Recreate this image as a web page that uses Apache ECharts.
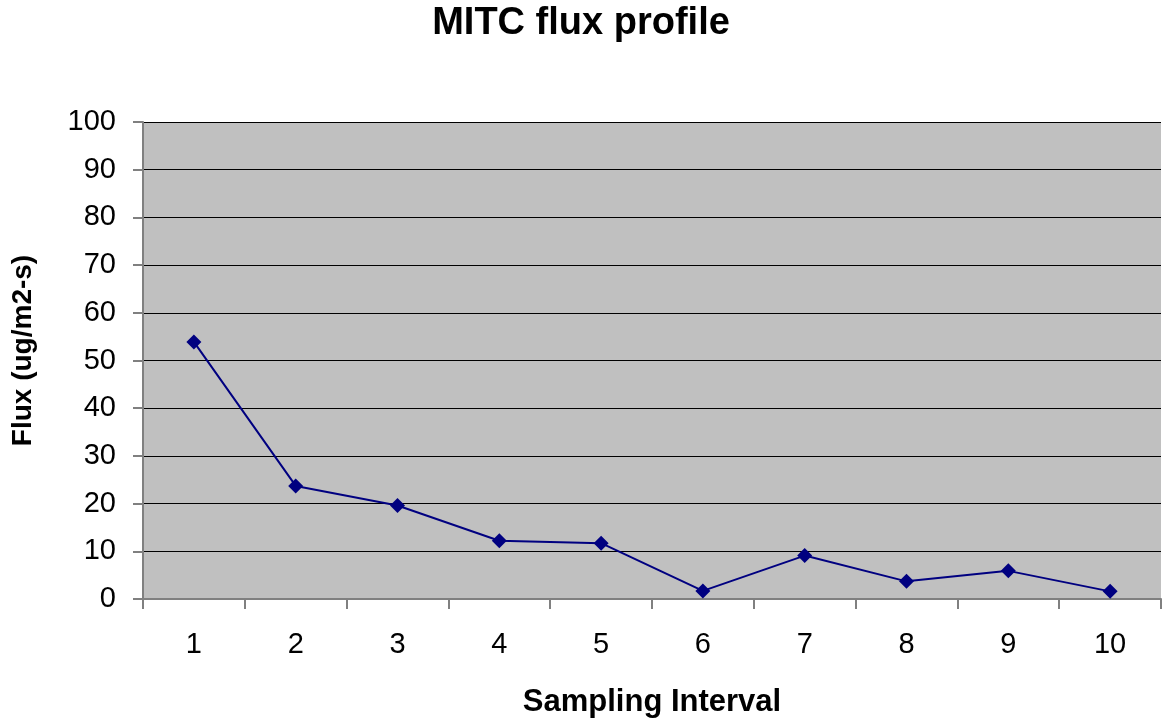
<!DOCTYPE html>
<html>
<head>
<meta charset="utf-8">
<script src="https://cdn.jsdelivr.net/npm/echarts@6/dist/echarts.min.js"></script>
<style>html,body{margin:0;padding:0;background:#fff;overflow:hidden}#c{width:1162px;height:721px}</style>
</head>
<body>
<div id="c"></div>
<script>
const categories = ['1','2','3','4','5','6','7','8','9','10'];
const fluxValues = [53.9, 23.7, 19.6, 12.2, 11.7, 1.7, 9.1, 3.7, 5.9, 1.6];
const yTicks = {min: 0, max: 100, interval: 10};

const FONT = 'Liberation Sans, Arial, sans-serif';
const chart = echarts.init(document.getElementById('c'));
chart.setOption({
  animation: false,
  title: {
    text: 'MITC flux profile', left: 'center', top: 0,
    textStyle: {fontFamily: FONT, fontSize: 38, fontWeight: 'bold', color: '#000'}
  },
  grid: {left: 143, right: 1, top: 122, bottom: 122, show: true, backgroundColor: '#C0C0C0', borderWidth: 0,
         containLabel: false, outerBoundsMode: 'none'},
  xAxis: {
    type: 'category', data: categories, boundaryGap: true,
    name: 'Sampling Interval', nameLocation: 'middle', nameGap: 88,
    nameTextStyle: {fontFamily: FONT, fontSize: 31, fontWeight: 'bold', color: '#000'},
    axisLine: {lineStyle: {color: '#808080', width: 2}},
    axisTick: {show: true, inside: false, length: 10, lineStyle: {color: '#808080', width: 2}},
    axisLabel: {fontFamily: FONT, fontSize: 29, color: '#000', margin: 31},
    splitLine: {show: false}
  },
  yAxis: {
    type: 'value', min: yTicks.min, max: yTicks.max, interval: yTicks.interval,
    name: 'Flux (ug/m2-s)', nameLocation: 'middle', nameGap: 106,
    nameTextStyle: {fontFamily: FONT, fontSize: 28, fontWeight: 'bold', color: '#000', padding: [0, 0, 0, 20]},
    axisLine: {show: true, lineStyle: {color: '#808080', width: 2}},
    axisTick: {show: true, inside: false, length: 10, lineStyle: {color: '#808080', width: 2}},
    axisLabel: {fontFamily: FONT, fontSize: 29, color: '#000', margin: 27},
    splitLine: {show: true, lineStyle: {color: '#000', width: 1}}
  },
  series: [{
    type: 'line', data: fluxValues,
    symbol: 'diamond', symbolSize: 15,
    lineStyle: {color: '#000080', width: 2},
    itemStyle: {color: '#000080'}
  }]
});
</script>
</body>
</html>
